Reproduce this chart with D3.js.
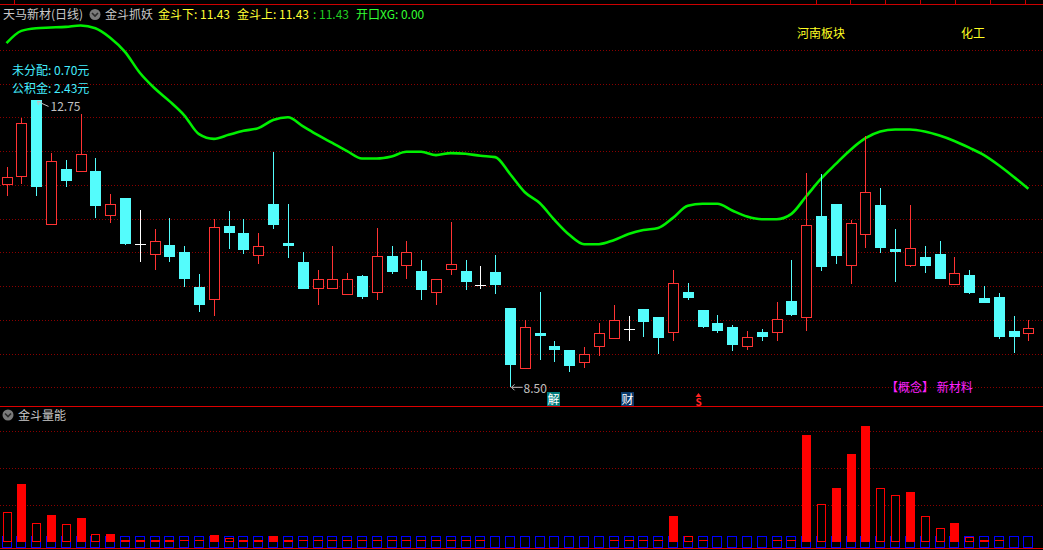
<!DOCTYPE html>
<html><head><meta charset="utf-8">
<script src="https://cdn.jsdelivr.net/npm/d3@7"></script>
<style>body{margin:0;background:#000;overflow:hidden}svg{display:block}</style>
</head><body>
<svg id="c" width="1043" height="550"></svg>
<script>
const opens  = [11.50,11.61,12.75,10.91,11.74,11.69,11.70,11.04,11.30,10.62,10.46,10.61,10.50,9.99,9.79,10.89,10.78,10.44,11.22,10.64,10.36,9.95,9.95,9.87,10.15,9.90,10.45,10.30,10.22,9.90,10.24,10.22,10.01,10.21,9.67,8.77,9.30,9.11,9.05,8.86,9.09,9.21,9.36,9.66,9.54,9.31,9.91,9.65,9.45,9.39,9.10,9.32,9.31,9.78,9.52,11.04,11.22,10.30,10.76,11.20,10.55,10.30,10.43,10.47,10.02,10.16,9.82,9.84,9.33,9.29];
const highs  = [11.76,12.49,12.75,11.97,11.87,12.55,11.89,11.36,11.30,11.13,10.85,11.01,10.59,10.18,11.00,11.11,10.99,10.78,11.99,11.22,10.50,10.24,10.59,10.19,10.16,10.86,10.59,10.67,10.39,10.10,10.95,10.39,10.30,10.46,9.67,9.50,9.91,9.19,9.05,9.10,9.45,9.72,9.56,9.66,9.54,10.24,10.05,9.65,9.57,9.42,9.33,9.36,9.76,10.38,11.67,11.66,11.22,10.98,12.22,11.45,10.85,11.20,10.59,10.67,10.43,10.24,10.00,9.90,9.56,9.50];
const lows   = [11.34,11.51,11.34,10.91,11.46,11.69,11.01,10.94,10.61,10.35,10.24,10.36,9.99,9.62,9.56,10.55,10.48,10.32,10.85,10.42,9.96,9.72,9.95,9.87,9.81,9.79,10.18,10.11,9.79,9.72,10.16,9.94,9.96,9.88,8.50,8.77,8.91,8.88,8.72,8.79,8.97,9.21,9.18,9.25,9.00,9.18,9.79,9.38,9.30,9.04,9.06,9.18,9.18,9.55,9.34,10.22,10.33,10.03,10.57,10.49,10.06,10.28,10.19,10.11,10.02,9.88,9.75,9.21,9.01,9.19];
const closes = [11.61,12.41,11.46,11.86,11.56,11.95,11.19,11.21,10.62,10.62,10.66,10.43,10.11,9.72,10.87,10.79,10.54,10.60,10.90,10.60,9.96,10.10,10.10,10.10,9.84,10.45,10.21,10.50,9.94,10.10,10.32,10.06,10.01,10.02,8.83,9.40,9.26,9.06,8.81,9.00,9.30,9.50,9.36,9.46,9.23,10.05,9.83,9.39,9.34,9.12,9.24,9.25,9.51,9.57,10.90,10.28,10.45,10.94,11.39,10.56,10.51,10.56,10.30,10.11,10.20,9.90,9.75,9.25,9.25,9.38];
const jindou = [13.60,13.78,13.82,13.83,13.84,13.86,13.82,13.68,13.47,13.16,12.93,12.74,12.53,12.25,12.18,12.24,12.30,12.34,12.46,12.50,12.37,12.24,12.12,12.00,11.89,11.89,11.92,11.99,11.99,11.94,11.97,11.96,11.93,11.91,11.66,11.39,11.23,10.98,10.76,10.62,10.62,10.68,10.77,10.83,10.86,11.01,11.19,11.22,11.22,11.12,11.03,10.99,10.99,11.07,11.33,11.59,11.81,12.02,12.19,12.29,12.32,12.32,12.29,12.23,12.15,12.05,11.94,11.79,11.62,11.44];
const volumes = [0.80,1.56,0.50,0.72,0.48,0.64,0.20,0.20,0.05,0.05,0.05,0.05,0.03,0.03,0.18,0.10,0.05,0.05,0.15,0.05,0.03,0.03,0.03,0.03,0.03,0.03,0.03,0.03,0.03,0.03,0.03,0.03,0.03,0,0,
                 0,0,0,0,0,0,0.03,0.03,0.03,0.03,0.69,0.14,0.03,0,0,0,0,0.03,0.03,2.89,1.02,1.45,2.38,3.14,1.45,1.26,1.35,0.69,0.37,0.50,0.12,0.05,0.03,0,0];
const volFilled = [0,1,0,1,0,1,0,1,1,1,1,1,1,1,1,0,1,1,1,1,1,1,1,1,1,1,1,1,1,1,1,1,1,1,1,
                   1,1,1,1,1,1,1,1,1,1,1,0,1,1,1,1,1,1,1,1,0,1,1,1,0,0,1,0,0,1,0,1,1,1,1];
const priceTicks = [8.5,9.0,9.5,10.0,10.5,11.0,11.5,12.0,12.5,13.0,13.5];
const volTicks = [1,2,3];
const topTicks = [14,816,850,885,920,955,990,1025];

const svg = d3.select('#c');
const W = 1043;
svg.append('rect').attr('width',W).attr('height',550).attr('fill','#000');

const x = d3.scaleLinear().domain([0,69]).range([6.5,1028.4]);
const cx = i => Math.round(x(i)) + 0.5;
const y = d3.scaleLinear().domain([8.5,13.5]).range([387.3,49.8]);
const vy = d3.scaleLinear().domain([0,3]).range([541.5,431.1]);

const FONT = '"Noto Sans CJK SC","Noto Sans",sans-serif';
const RED='#ff3333', CYAN='#54fcfc', GRIDC='#8a0000';

// grid lines
const g = svg.append('g').attr('shape-rendering','crispEdges');
g.selectAll('.pg').data(priceTicks).enter().append('line')
  .attr('x1',0).attr('x2',W)
  .attr('y1',d=>Math.round(y(d))+0.5).attr('y2',d=>Math.round(y(d))+0.5)
  .attr('stroke',GRIDC).attr('stroke-dasharray','1 2');
g.selectAll('.vg').data(volTicks).enter().append('line')
  .attr('x1',0).attr('x2',W)
  .attr('y1',d=>Math.round(vy(d))+0.5).attr('y2',d=>Math.round(vy(d))+0.5)
  .attr('stroke',GRIDC).attr('stroke-dasharray','1 2');

// frame lines
g.append('line').attr('x1',0).attr('x2',W).attr('y1',4.5).attr('y2',4.5).attr('stroke','#cc0000');
topTicks.forEach(t=>g.append('line').attr('x1',t+0.5).attr('x2',t+0.5).attr('y1',0).attr('y2',4).attr('stroke','#cc0000'));
g.append('line').attr('x1',0).attr('x2',W).attr('y1',406.5).attr('y2',406.5).attr('stroke','#dd0000');
g.append('line').attr('x1',0).attr('x2',W).attr('y1',548.5).attr('y2',548.5).attr('stroke','#dd0000');

// green line
const line = d3.line().x((d,i)=>x(i)).y(d=>y(d)).curve(d3.curveMonotoneX);
svg.append('path').datum(jindou).attr('d',line).attr('fill','none')
  .attr('stroke','#00f000').attr('stroke-width',2.6);

// candles
const cg = svg.append('g').attr('shape-rendering','crispEdges');
opens.forEach((o,i)=>{
  const c = closes[i], h = highs[i], l = lows[i];
  const X = cx(i);
  const yo = Math.round(y(o)), yc = Math.round(y(c)), yh = Math.round(y(h)), yl = Math.round(y(l));
  if (c > o) {
    if (yh < yc) cg.append('line').attr('x1',X).attr('x2',X).attr('y1',yh).attr('y2',yc).attr('stroke',RED);
    if (yl > yo) cg.append('line').attr('x1',X).attr('x2',X).attr('y1',yo).attr('y2',yl).attr('stroke',RED);
    cg.append('rect').attr('x',X-5).attr('y',yc+0.5).attr('width',10).attr('height',Math.max(1,yo-yc-1))
      .attr('fill','#000').attr('stroke',RED).attr('stroke-width',1);
  } else if (c < o) {
    cg.append('line').attr('x1',X).attr('x2',X).attr('y1',yh).attr('y2',yl).attr('stroke',CYAN);
    cg.append('rect').attr('x',X-5.5).attr('y',yo).attr('width',11).attr('height',Math.max(2,yc-yo))
      .attr('fill',CYAN);
  } else {
    cg.append('line').attr('x1',X).attr('x2',X).attr('y1',yh).attr('y2',yl).attr('stroke','#fff');
    cg.append('line').attr('x1',X-6).attr('x2',X+5).attr('y1',yo+0.5).attr('y2',yo+0.5).attr('stroke','#fff');
  }
});

// volume
const vg = svg.append('g').attr('shape-rendering','crispEdges');
const BOX = 0.15;
volumes.forEach((v,i)=>{
  const X = Math.round(x(i));
  vg.append('rect').attr('x',X-4.5).attr('y',Math.round(vy(BOX))+0.5).attr('width',9)
    .attr('height',Math.round(vy(-BOX))-Math.round(vy(BOX))).attr('fill','none').attr('stroke','#0000ff').attr('stroke-width',1.3);
});
volumes.forEach((v,i)=>{
  if (v<=0) return;
  const X = Math.round(x(i));
  const top = vy(v), base = vy(0);
  const hgt = base - top;
  if (hgt < 3) {
    vg.append('rect').attr('x',X-4).attr('y',Math.round(top)-0.5).attr('width',9).attr('height',Math.max(1,Math.round(hgt)))
      .attr('fill','#ff0000');
  } else if (volFilled[i]) {
    vg.append('rect').attr('x',X-4).attr('y',Math.round(top)).attr('width',9).attr('height',Math.round(base)-Math.round(top))
      .attr('fill','#ff0000');
  } else {
    vg.append('rect').attr('x',X-3.5).attr('y',Math.round(top)+0.5).attr('width',8).attr('height',Math.round(base)-Math.round(top)-1)
      .attr('fill','#000').attr('stroke','#ff0000').attr('stroke-width',1);
  }
});

// texts
function txt(s,xx,yy,col,size,anchor){
  return svg.append('text').attr('x',xx).attr('y',yy).attr('fill',col)
    .attr('font-family',FONT).attr('font-size',size||12).attr('text-anchor',anchor||'start').text(s);
}
function icon(xx,yy){
  svg.append('circle').attr('cx',xx).attr('cy',yy).attr('r',5.5).attr('fill','#7a7a7a');
  svg.append('path').attr('d',`M${xx-3},${yy-1.5} L${xx},${yy+1.5} L${xx+3},${yy-1.5}`)
    .attr('fill','none').attr('stroke','#2a2a2a').attr('stroke-width',1.6);
}
txt('天马新材(日线)',3,19,'#c8c8c8',12);
icon(95,14.5);
txt('金斗抓妖',105,19,'#c8c8c8',12);
txt('金斗下: 11.43',158,19,'#ffff33',12);
txt('金斗上: 11.43',237,19,'#ffff33',12);
txt(': 11.43',313,19,'#22cc22',12);
txt('开口XG: 0.00',356,19,'#33ff33',12);

txt('未分配: 0.70元',12,74.5,'#44eeff',12);
txt('公积金: 2.43元',12,92.5,'#44eeff',12);

// high marker
svg.append('path').attr('d',`M${cx(2)+1},${y(12.75)+1} L${cx(2)+12},${y(12.75)+6}`).attr('stroke','#c0c0c0').attr('fill','none');
svg.append('path').attr('d',`M${cx(2)+1},${y(12.75)+1} l4,0 M${cx(2)+1},${y(12.75)+1} l1,3.5`).attr('stroke','#c0c0c0').attr('fill','none');
txt('12.75',cx(2)+14,110.5,'#c0c0c0',12);
// low marker
svg.append('path').attr('d',`M${cx(34)+1},${y(8.5)} L${cx(34)+12},${y(8.5)} M${cx(34)+1},${y(8.5)} l3,-3 M${cx(34)+1},${y(8.5)} l3,3`).attr('stroke','#c0c0c0').attr('fill','none');
txt('8.50',cx(34)+13,392.5,'#c0c0c0',12);

txt('河南板块',797,37.5,'#ffff22',12);
txt('化工',961,37.5,'#ffff22',12);
txt('【概念】 新材料',886,391.5,'#ff22ff',12);

svg.append('rect').attr('x',547).attr('y',392).attr('width',13).attr('height',14).attr('fill','#007a7a');
txt('解',553.5,404,'#ffffff',12,'middle');
svg.append('rect').attr('x',621).attr('y',392).attr('width',13).attr('height',14).attr('fill','#0a3a6a');
txt('财',627.5,404,'#ffffff',12,'middle');
svg.append('path').attr('d','M698.5,393 L701.5,397 L695.5,397 Z').attr('fill','#ff2222');
txt('S',698.5,406,'#ff2222',10,'middle').attr('font-weight','bold');

icon(8,415);
txt('金斗量能',18,419.5,'#c8c8c8',12);
</script>
</body></html>
